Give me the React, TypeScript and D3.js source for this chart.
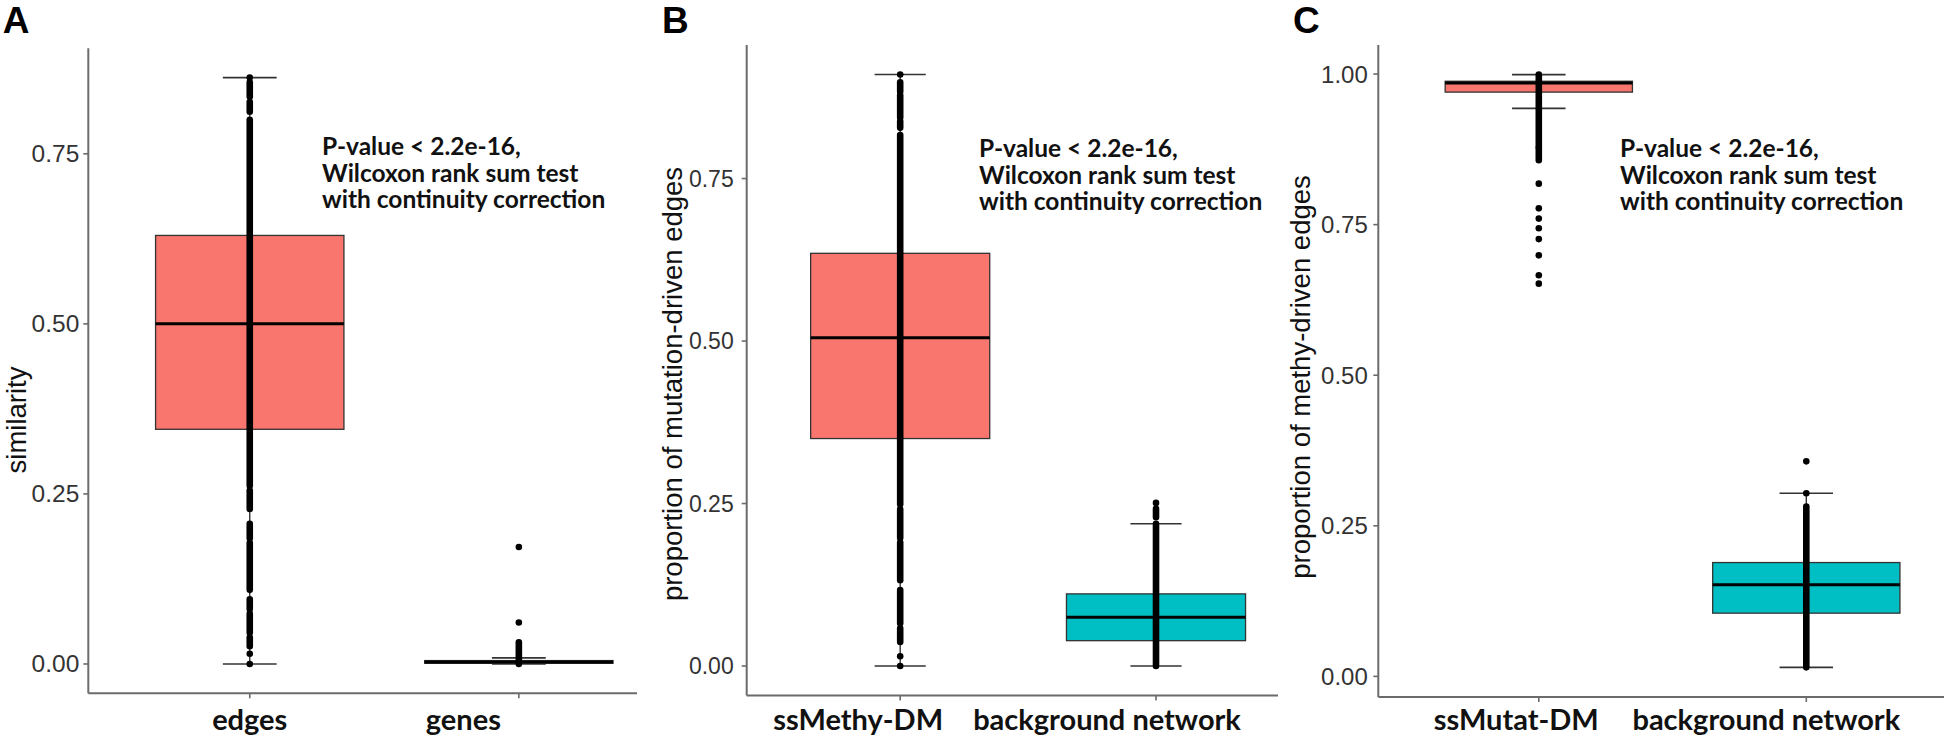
import React from "react";
import * as d3 from "d3";

// ---------- data ----------
const panelLetters = ["A", "B", "C"];
const categoriesA = ["edges", "genes"];
const categoriesB = ["ssMethy-DM", "background network"];
const categoriesC = ["ssMutat-DM", "background network"];
const yTitles = [
  "similarity",
  "proportion of mutation-driven edges",
  "proportion of methy-driven edges",
];
const yTicksA = [0, 0.25, 0.5, 0.75];
const yTicksB = [0, 0.25, 0.5, 0.75];
const yTicksC = [0, 0.25, 0.5, 0.75, 1.0];
const annotationLines = [
  "P-value < 2.2e-16,",
  "Wilcoxon rank sum test",
  "with continuity correction",
];

// box stats: [lower whisker, Q1, median, Q3, upper whisker]
const boxEdges = [0, 0.345, 0.5, 0.63, 0.862];
const boxGenes = [0, 0.001, 0.003, 0.005, 0.009];
const boxMethyDM = [0, 0.35, 0.505, 0.635, 0.91];
const boxBackgroundB = [0, 0.039, 0.075, 0.111, 0.219];
const boxMutatDM = [0.943, 0.97, 0.985, 0.988, 0.999];
const boxBackgroundC = [0.015, 0.105, 0.152, 0.189, 0.304];

// observed points: dense runs of overlapping points [from, to] and single points
const edgesRuns = [
  [0.026, 0.039], [0.046, 0.074], [0.081, 0.095], [0.109, 0.178], [0.185, 0.206],
  [0.228, 0.255], [0.262, 0.8], [0.812, 0.826], [0.834, 0.855],
];
const edgesPoints = [0, 0.015, 0.862];
const genesRuns = [[0, 0.032]];
const genesPoints = [0.061, 0.172];
const methyRuns = [
  [0.037, 0.058], [0.066, 0.117], [0.132, 0.19], [0.197, 0.241], [0.249, 0.817],
  [0.828, 0.838], [0.844, 0.878], [0.884, 0.898],
];
const methyPoints = [0, 0.015, 0.91];
const backgroundBRuns = [[0, 0.219], [0.229, 0.242]];
const backgroundBPoints = [0.251];
const mutatRuns = [[0.879, 0.999], [0.857, 0.877]];
const mutatPoints = [0.818, 0.777, 0.76, 0.744, 0.726, 0.699, 0.666, 0.652];
const backgroundCRuns = [[0.015, 0.282]];
const backgroundCPoints = [0.304, 0.357];

const fillColors = ["#F8766D", "#00BFC4"];

// ---------- layout ----------
const panels = [
  {
    letter: panelLetters[0], cats: categoriesA, title: yTitles[0], ticks: yTicksA,
    boxes: [boxEdges, boxGenes], runs: [edgesRuns, genesRuns], pts: [edgesPoints, genesPoints],
    left: 88.3, top: 48.3, bottom: 693.3, width: 592, axisEnd: 637,
    tickFont: 24.5, tickGap: 9, titleX: 25.5, titleY: 420, letterX: 2.7,
    annX: 322, annY: 155, labelDx: [0, -55.5],
  },
  {
    letter: panelLetters[1], cats: categoriesB, title: yTitles[1], ticks: yTicksB,
    boxes: [boxMethyDM, boxBackgroundB], runs: [methyRuns, backgroundBRuns], pts: [methyPoints, backgroundBPoints],
    left: 746.7, top: 45, bottom: 695.6, width: 562.8, axisEnd: 1278,
    tickFont: 23, tickGap: 13, titleX: 682, titleY: 384, letterX: 662,
    annX: 979, annY: 157, labelDx: [-42, -49],
  },
  {
    letter: panelLetters[2], cats: categoriesC, title: yTitles[2], ticks: yTicksC,
    boxes: [boxMutatDM, boxBackgroundC], runs: [mutatRuns, backgroundCRuns], pts: [mutatPoints, backgroundCPoints],
    left: 1378.3, top: 45, bottom: 697, width: 588.5, axisEnd: 1944,
    tickFont: 24, tickGap: 10.5, titleX: 1310, titleY: 377, letterX: 1293,
    annX: 1620, annY: 157, labelDx: [-22.5, -40],
  },
];

const tickFontFamily = "'Liberation Sans', Arial, sans-serif";
const boldFamily = "Lato, 'Open Sans', sans-serif";

function Panel({ p }: { p: any }) {
  const allVals: number[] = [];
  p.boxes.forEach((b: number[]) => allVals.push(...b));
  p.runs.forEach((rs: number[][]) => rs.forEach((r) => allVals.push(...r)));
  p.pts.forEach((ps: number[]) => allVals.push(...ps));
  const [lo, hi] = d3.extent(allVals) as [number, number];
  const pad = (hi - lo) * 0.05;
  const y = d3.scaleLinear().domain([lo - pad, hi + pad]).range([p.bottom, p.top]);
  const x = d3.scalePoint<string>().domain(p.cats).range([p.left, p.left + p.width]).padding(0.6);
  const step = x.step();
  const boxHalf = step * 0.35;
  const capHalf = step * 0.1;

  return (
    <g>
      <text x={p.letterX} y={33} fontFamily={tickFontFamily} fontWeight="bold" fontSize={37} fill="#000">
        {p.letter}
      </text>
      {/* axes */}
      <line x1={p.left} x2={p.left} y1={p.top} y2={p.bottom} stroke="#6b6b6b" strokeWidth={2} />
      <line x1={p.left} x2={p.axisEnd} y1={p.bottom} y2={p.bottom} stroke="#6b6b6b" strokeWidth={2} />
      {p.ticks.map((t: number) => (
        <g key={t}>
          <line x1={p.left - 5} x2={p.left} y1={y(t)} y2={y(t)} stroke="#6b6b6b" strokeWidth={1.6} />
          <text
            x={p.left - p.tickGap}
            y={y(t)}
            textAnchor="end"
            dominantBaseline="central"
            fontFamily={tickFontFamily}
            fontSize={p.tickFont}
            fill="#333"
          >
            {d3.format(".2f")(t)}
          </text>
        </g>
      ))}
      <text
        transform={`translate(${p.titleX},${p.titleY}) rotate(-90)`}
        textAnchor="middle"
        fontFamily={tickFontFamily}
        fontSize={27.5}
        fill="#111"
      >
        {p.title}
      </text>
      {p.cats.map((c: string, i: number) => {
        const cx = x(c)!;
        const b = p.boxes[i];
        return (
          <g key={c}>
            <line x1={cx} x2={cx} y1={p.bottom} y2={p.bottom + 5} stroke="#6b6b6b" strokeWidth={1.6} />
            {/* whisker + error bar caps */}
            <line x1={cx} x2={cx} y1={y(b[0])} y2={y(b[4])} stroke="#333" strokeWidth={1.4} />
            <line x1={cx - capHalf} x2={cx + capHalf} y1={y(b[0])} y2={y(b[0])} stroke="#333" strokeWidth={1.6} />
            <line x1={cx - capHalf} x2={cx + capHalf} y1={y(b[4])} y2={y(b[4])} stroke="#333" strokeWidth={1.6} />
            {/* box */}
            <rect
              x={cx - boxHalf}
              y={y(b[3])}
              width={boxHalf * 2}
              height={Math.max(0.5, y(b[1]) - y(b[3]))}
              fill={fillColors[i]}
              stroke="#333"
              strokeWidth={1.3}
            />
            <line x1={cx - boxHalf} x2={cx + boxHalf} y1={y(b[2])} y2={y(b[2])} stroke="#000" strokeWidth={3} />
            {/* points */}
            {p.runs[i].map((r: number[], k: number) => (
              <line key={"r" + k} x1={cx} x2={cx} y1={y(r[0])} y2={y(r[1])} stroke="#000" strokeWidth={6.6} strokeLinecap="round" />
            ))}
            {p.pts[i].map((v: number, k: number) => (
              <circle key={"p" + k} cx={cx} cy={y(v)} r={3.3} fill="#000" />
            ))}
            <text
              x={cx + p.labelDx[i]}
              y={730}
              textAnchor="middle"
              fontFamily={boldFamily}
              fontWeight={700}
              fontSize={29}
              fill="#111"
            >
              {c}
            </text>
          </g>
        );
      })}
      {annotationLines.map((l, k) => (
        <text
          key={k}
          x={p.annX}
          y={p.annY + k * 26.7}
          fontFamily={boldFamily}
          fontWeight={700}
          fontSize={24.5}
          fill="#111"
        >
          {l}
        </text>
      ))}
    </g>
  );
}

export default function App() {
  return (
    <svg
      width={1944}
      height={741}
      viewBox="0 0 1944 741"
      style={{ position: "absolute", left: 0, top: 0, background: "#fff" }}
    >
      <rect x={0} y={0} width={1944} height={741} fill="#fff" />
      {panels.map((p) => (
        <Panel key={p.letter} p={p} />
      ))}
    </svg>
  );
}
